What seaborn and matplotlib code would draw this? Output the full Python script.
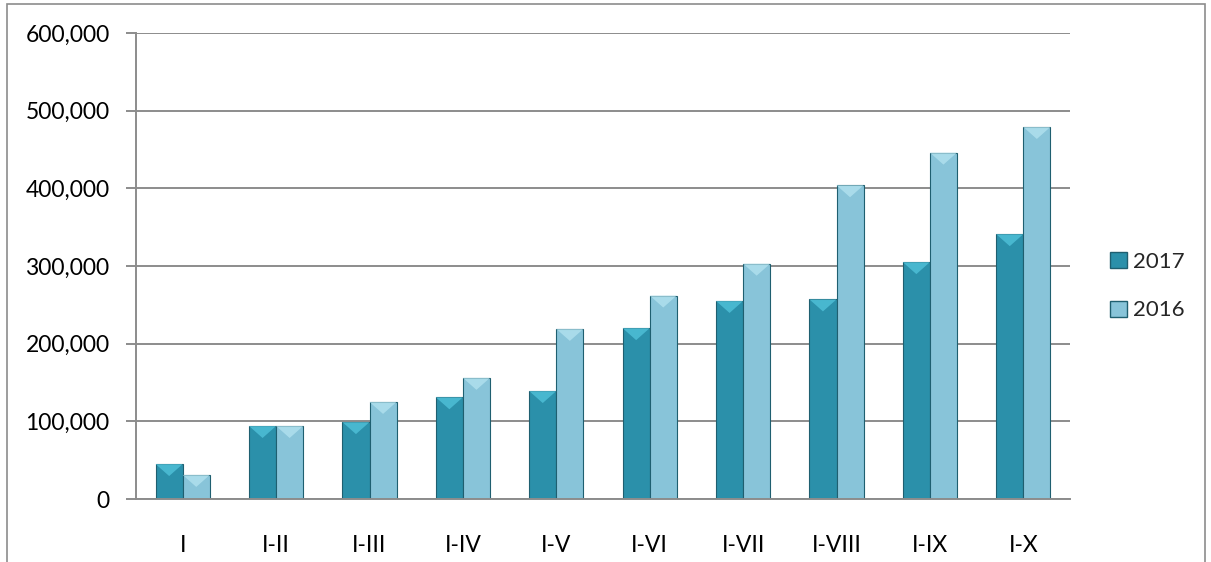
import matplotlib
matplotlib.use("Agg")
import matplotlib.pyplot as plt
import matplotlib.patches as mpatches
from matplotlib.ticker import FuncFormatter, FixedLocator
import seaborn as sns
import pandas as pd

# ─── Data ─────────────────────────────────────────────────────────────────────
periods = ["I", "I-II", "I-III", "I-IV", "I-V", "I-VI", "I-VII", "I-VIII", "I-IX", "I-X"]
values_2017 = [45000, 94000, 99000, 131000, 139000, 220000, 255000, 257000, 305000, 341000]
values_2016 = [31000, 94000, 125000, 156000, 219000, 262000, 303000, 404000, 446000, 479000]
series = ["2017", "2016"]
colors = ["#2b90aa", "#88c4d9"]
bevel_colors = ["#55c8e0", "#b8e6f2"]

df = pd.DataFrame({
    "period": periods * 2,
    "year": [series[0]] * len(periods) + [series[1]] * len(periods),
    "value": values_2017 + values_2016,
})

sns.set_style("white")
plt.rcParams["font.family"] = ["Lato", "DejaVu Sans"]

fig = plt.figure(figsize=(12.11, 5.62), dpi=100)
ax = fig.add_axes([136 / 1211, 1 - 499 / 562, (1070 - 136) / 1211, (499 - 33) / 562])

sns.barplot(data=df, x="period", y="value", hue="year", hue_order=series,
            palette=colors, width=0.58, edgecolor="#1f5f70", linewidth=0.8,
            saturation=1, ax=ax, legend=False)

ax.set_ylim(0, 600000)
ax.set_xlim(-0.5, len(periods) - 0.5)

# bevel highlight on top of each bar (derived from the bar patches)
bevel_h = 12 / 77.7 * 100000
n = len(periods)
for i, bar in enumerate(ax.patches[:2 * n]):
    x0, w, h = bar.get_x(), bar.get_width(), bar.get_height()
    tri = mpatches.Polygon([(x0, h), (x0 + w, h), (x0 + w / 2, h - bevel_h)],
                           closed=True, facecolor=bevel_colors[i // n],
                           edgecolor="none", alpha=0.7, zorder=bar.get_zorder() + 0.1)
    ax.add_patch(tri)

ax.yaxis.set_major_formatter(FuncFormatter(lambda v, p: f"{int(v):,}"))
ax.set_yticks(range(0, 600001, 100000))
ax.grid(axis="y", color="#8c8c8c", linewidth=1.4)
ax.set_axisbelow(True)
ax.set_xlabel("")
ax.set_ylabel("")

# category boundary ticks on the x axis
ax.xaxis.set_minor_locator(FixedLocator([i - 0.5 for i in range(len(periods) + 1)]))
ax.tick_params(axis="x", which="major", length=0, pad=26, labelsize=16.5, labelcolor="black")
ax.tick_params(axis="x", which="minor", length=7, width=1.4, color="#8c8c8c", direction="out")
ax.tick_params(axis="y", length=7, width=1.4, color="#8c8c8c", direction="out",
               pad=12, labelsize=16.5, labelcolor="black", left=True)

for side in ["top", "right"]:
    ax.spines[side].set_visible(False)
for side in ["left", "bottom"]:
    ax.spines[side].set_color("#8c8c8c")
    ax.spines[side].set_linewidth(1.4)

# legend on the right
handles = [mpatches.Patch(facecolor=c, edgecolor="#1f5f70", label=s) for c, s in zip(colors, series)]
fig.legend(handles=handles, loc="center left", bbox_to_anchor=(1090 / 1211, 1 - 286 / 562),
           frameon=False, fontsize=16, handlelength=0.75, handleheight=0.75,
           handletextpad=0.3, labelspacing=1.3)

# chart area border
fig.patches.append(mpatches.Rectangle((7 / 1211, -0.01), 1198 / 1211, 1 - 4 / 562 + 0.01,
                                      transform=fig.transFigure, fill=False,
                                      edgecolor="#8c8c8c", linewidth=1.2))

fig.savefig("out.png", dpi=100)
